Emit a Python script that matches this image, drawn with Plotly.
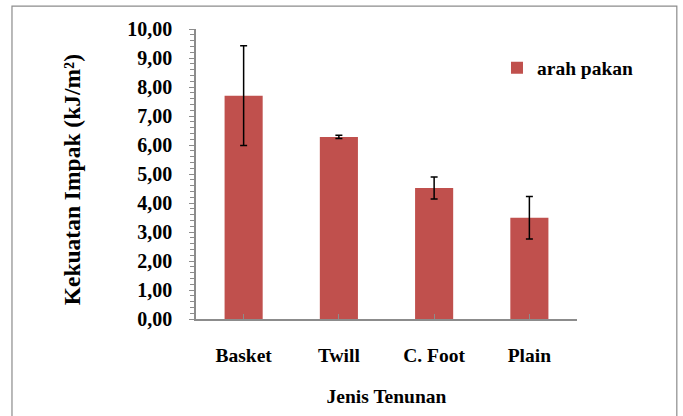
import plotly.graph_objects as go

categories = ["Basket", "Twill", "C. Foot", "Plain"]
values = [7.70, 6.28, 4.52, 3.49]
errors = [1.72, 0.06, 0.38, 0.73]
series_name = "arah pakan"
y_ticks = [0, 1, 2, 3, 4, 5, 6, 7, 8, 9, 10]
y_title = "Kekuatan Impak (kJ/m²)"
x_title = "Jenis Tenunan"

FONT = "Liberation Serif, Times New Roman, serif"

fig = go.Figure()
fig.add_trace(go.Bar(
    x=categories, y=values, name="<b>" + series_name + "</b>",
    marker=dict(color="#C0504D", line=dict(color="#C0504D", width=0)),
    width=0.4,
    error_y=dict(type="data", array=errors, visible=True,
                 color="black", thickness=1.5, width=3.5),
    showlegend=True,
))

fig.update_layout(
    width=683, height=416,
    margin=dict(l=196, r=106, t=29, b=97),
    paper_bgcolor="white", plot_bgcolor="white",
    font=dict(family=FONT, size=20, color="black"),
    showlegend=True,
    legend=dict(x=0.79, y=0.865, xref="paper", yref="paper",
                xanchor="left", yanchor="middle",
                font=dict(family=FONT, size=19.5, color="black"),
                bgcolor="rgba(0,0,0,0)", itemwidth=30),
)

fig.update_xaxes(
    automargin=False,
    showline=True, linecolor="#8c8c8c", linewidth=1.5,
    ticks="inside", ticklen=5, tickcolor="#8c8c8c",
    tickfont=dict(family=FONT, size=19.5, color="black"),
    tickvals=categories, ticktext=["<b>" + c + "</b>" for c in categories],
    ticklabelstandoff=18,
    title=dict(text="<b>" + x_title + "</b>", font=dict(family=FONT, size=19.5), standoff=24),
    showgrid=False,
)
fig.update_yaxes(
    automargin=False,
    range=[0, 10], tickvals=y_ticks,
    ticktext=["<b>%s</b>" % ("%.2f" % v).replace(".", ",") for v in y_ticks],
    showline=True, linecolor="#8c8c8c", linewidth=1.5,
    ticks="outside", ticklen=5, tickcolor="#8c8c8c",
    minor=dict(dtick=0.2, ticks="outside", ticklen=4, tickcolor="#8c8c8c", showgrid=False),
    tickfont=dict(family=FONT, size=20, color="black"),
    ticklabelstandoff=13,
    showgrid=False, zeroline=False,
)

fig.add_annotation(text="<b>" + y_title + "</b>", xref="paper", yref="paper",
                   x=-0.325, y=0.479, xanchor="center", yanchor="middle",
                   textangle=-90, showarrow=False,
                   font=dict(family=FONT, size=23.5, color="black"))

fig.add_shape(type="rect", xref="paper", yref="paper",
              x0=-0.483, x1=1.262, y0=-0.5, y1=1.079,
              line=dict(color="#8c8c8c", width=1.2), fillcolor="rgba(0,0,0,0)", layer="below")

fig.write_html("out.html", config={"displayModeBar": False},
               post_script="document.body.style.margin='0';")
